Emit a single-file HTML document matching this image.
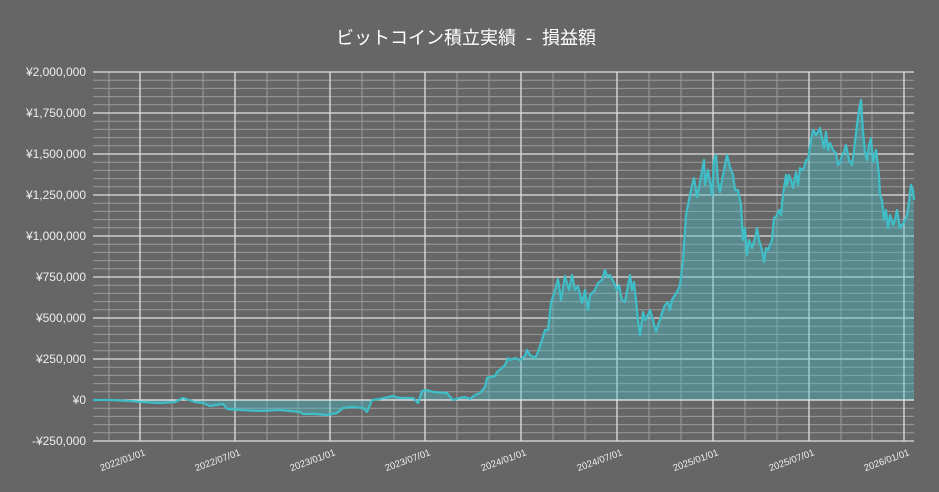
<!DOCTYPE html>
<html><head><meta charset="utf-8"><style>
html,body{margin:0;padding:0;background:#666;}
svg{display:block;font-family:"Liberation Sans","Noto Sans CJK JP",sans-serif;}
</style></head><body>
<svg width="939" height="492" viewBox="0 0 939 492">
<rect width="939" height="492" fill="#666"/>
<text x="466" y="44" fill="#fff" font-size="18" text-anchor="middle" xml:space="preserve" style="white-space:pre">ビットコイン積立実績  -  損益額</text>
<g stroke="#9a9a9a" stroke-width="1">
<line x1="93" x2="914" y1="80.2" y2="80.2"/><line x1="93" x2="914" y1="88.4" y2="88.4"/><line x1="93" x2="914" y1="96.6" y2="96.6"/><line x1="93" x2="914" y1="104.8" y2="104.8"/>
<line x1="93" x2="914" y1="121.2" y2="121.2"/><line x1="93" x2="914" y1="129.4" y2="129.4"/><line x1="93" x2="914" y1="137.6" y2="137.6"/><line x1="93" x2="914" y1="145.8" y2="145.8"/>
<line x1="93" x2="914" y1="162.2" y2="162.2"/><line x1="93" x2="914" y1="170.4" y2="170.4"/><line x1="93" x2="914" y1="178.6" y2="178.6"/><line x1="93" x2="914" y1="186.8" y2="186.8"/>
<line x1="93" x2="914" y1="203.2" y2="203.2"/><line x1="93" x2="914" y1="211.4" y2="211.4"/><line x1="93" x2="914" y1="219.6" y2="219.6"/><line x1="93" x2="914" y1="227.8" y2="227.8"/>
<line x1="93" x2="914" y1="244.2" y2="244.2"/><line x1="93" x2="914" y1="252.4" y2="252.4"/><line x1="93" x2="914" y1="260.6" y2="260.6"/><line x1="93" x2="914" y1="268.8" y2="268.8"/>
<line x1="93" x2="914" y1="285.2" y2="285.2"/><line x1="93" x2="914" y1="293.4" y2="293.4"/><line x1="93" x2="914" y1="301.6" y2="301.6"/><line x1="93" x2="914" y1="309.8" y2="309.8"/>
<line x1="93" x2="914" y1="326.2" y2="326.2"/><line x1="93" x2="914" y1="334.4" y2="334.4"/><line x1="93" x2="914" y1="342.6" y2="342.6"/><line x1="93" x2="914" y1="350.8" y2="350.8"/>
<line x1="93" x2="914" y1="367.2" y2="367.2"/><line x1="93" x2="914" y1="375.4" y2="375.4"/><line x1="93" x2="914" y1="383.6" y2="383.6"/><line x1="93" x2="914" y1="391.8" y2="391.8"/>
<line x1="93" x2="914" y1="408.2" y2="408.2"/><line x1="93" x2="914" y1="416.4" y2="416.4"/><line x1="93" x2="914" y1="424.6" y2="424.6"/><line x1="93" x2="914" y1="432.8" y2="432.8"/>
<line y1="72" y2="441" x1="109" x2="109"/><line y1="72" y2="441" x1="172" x2="172"/><line y1="72" y2="441" x1="203" x2="203"/>
<line y1="72" y2="441" x1="267" x2="267"/><line y1="72" y2="441" x1="298" x2="298"/>
<line y1="72" y2="441" x1="362" x2="362"/><line y1="72" y2="441" x1="394" x2="394"/>
<line y1="72" y2="441" x1="457" x2="457"/><line y1="72" y2="441" x1="489" x2="489"/>
<line y1="72" y2="441" x1="553" x2="553"/><line y1="72" y2="441" x1="585" x2="585"/>
<line y1="72" y2="441" x1="649" x2="649"/><line y1="72" y2="441" x1="681" x2="681"/>
<line y1="72" y2="441" x1="745" x2="745"/><line y1="72" y2="441" x1="777" x2="777"/>
<line y1="72" y2="441" x1="841" x2="841"/><line y1="72" y2="441" x1="872" x2="872"/>
</g>
<g stroke="#e0e0e0" stroke-width="1.3">
<line x1="93" x2="914" y1="72" y2="72"/><line x1="93" x2="914" y1="113" y2="113"/><line x1="93" x2="914" y1="154" y2="154"/><line x1="93" x2="914" y1="195" y2="195"/><line x1="93" x2="914" y1="236" y2="236"/><line x1="93" x2="914" y1="277" y2="277"/><line x1="93" x2="914" y1="318" y2="318"/><line x1="93" x2="914" y1="359" y2="359"/><line x1="93" x2="914" y1="441" y2="441"/>
<line y1="72" y2="441" x1="140" x2="140"/><line y1="72" y2="441" x1="235" x2="235"/><line y1="72" y2="441" x1="330" x2="330"/><line y1="72" y2="441" x1="425" x2="425"/><line y1="72" y2="441" x1="521" x2="521"/><line y1="72" y2="441" x1="617" x2="617"/><line y1="72" y2="441" x1="713" x2="713"/><line y1="72" y2="441" x1="809" x2="809"/><line y1="72" y2="441" x1="904" x2="904"/>
</g>
<g fill="#eee" font-size="12" text-anchor="end">
<text x="86" y="76">¥2,000,000</text><text x="86" y="117">¥1,750,000</text><text x="86" y="158">¥1,500,000</text><text x="86" y="199">¥1,250,000</text><text x="86" y="240">¥1,000,000</text><text x="86" y="281">¥750,000</text><text x="86" y="322">¥500,000</text><text x="86" y="363">¥250,000</text><text x="86" y="404">¥0</text><text x="86" y="445">-¥250,000</text>
</g>
<g fill="#eee" font-size="9.5" text-anchor="end">
<text transform="translate(146,455) rotate(-20)">2022/01/01</text>
<text transform="translate(241,455) rotate(-20)">2022/07/01</text>
<text transform="translate(336,455) rotate(-20)">2023/01/01</text>
<text transform="translate(431,455) rotate(-20)">2023/07/01</text>
<text transform="translate(527,455) rotate(-20)">2024/01/01</text>
<text transform="translate(623,455) rotate(-20)">2024/07/01</text>
<text transform="translate(719,455) rotate(-20)">2025/01/01</text>
<text transform="translate(815,455) rotate(-20)">2025/07/01</text>
<text transform="translate(910,455) rotate(-20)">2026/01/01</text>
</g>
<path fill="rgba(70,195,205,0.38)" d="M93,400 L93,400 110,400 130,401 150,402.5 160,403 175,402 183,398 195,402 203,403 210,406 223,404 227,409 240,410 260,411 280,410 300,412 303,414 315,414 327,415 337,413 343,408 353,407 363,408 367,412 372,400 380,399 393,396 400,398 413,398 418,403 422,391 427,390 433,392 447,393 453,400 460,398 465,397 470,399 475,395 480,393 485,387 487,378 495,376 497,372 502,368 505,365 508,358 510,360 515,358 520,360 525,356 527,350 530,355 535,358 538,352 541,343 545,330 548,330 551,303 555,290 558,279 561,300 565,276 569,290 572,275 575,290 578,286 582,303 585,290 588,310 590,295 595,290 598,283 602,280 605,270 607,276 610,275 615,285 617,290 619,285 622,300 625,302 628,285 630,275 632,290 634,282 636,300 638,320 640,335 643,312 645,320 648,315 650,310 653,320 656,332 658,325 660,320 663,310 665,305 668,302 670,310 672,300 675,295 678,290 680,285 683,260 686,215 688,205 692,185 694,178 697,197 700,182 704,160 705,185 708,170 710,182 712,195 714,160 716,155 718,182 720,192 722,180 725,165 727,155 730,167 733,175 735,190 738,190 741,205 743,240 745,228 747,255 749,240 752,248 755,238 757,228 759,240 762,250 764,262 766,248 768,250 770,245 772,240 774,218 776,217 779,210 781,215 783,195 786,175 787,185 789,175 791,180 793,188 796,172 798,185 800,168 802,170 804,168 806,160 808,160 811,140 813,130 816,135 818,132 820,128 824,148 826,132 828,150 830,143 833,150 836,153 838,165 840,162 842,155 844,152 846,145 849,160 852,165 854,150 857,125 859,110 861,100 863,132 865,152 867,160 869,145 871,138 873,162 876,150 879,175 880,195 882,200 884,220 886,210 888,228 890,215 893,225 895,220 897,210 900,228 902,225 905,220 907,215 909,202 911,185 913,190 914,200 L914,400 Z"/>
<line x1="93" x2="914" y1="400" y2="400" stroke="#f0f0f0" stroke-width="1.3"/>
<polyline fill="none" stroke="#3fbec8" stroke-width="2.2" stroke-linejoin="round" points="93,400 110,400 130,401 150,402.5 160,403 175,402 183,398 195,402 203,403 210,406 223,404 227,409 240,410 260,411 280,410 300,412 303,414 315,414 327,415 337,413 343,408 353,407 363,408 367,412 372,400 380,399 393,396 400,398 413,398 418,403 422,391 427,390 433,392 447,393 453,400 460,398 465,397 470,399 475,395 480,393 485,387 487,378 495,376 497,372 502,368 505,365 508,358 510,360 515,358 520,360 525,356 527,350 530,355 535,358 538,352 541,343 545,330 548,330 551,303 555,290 558,279 561,300 565,276 569,290 572,275 575,290 578,286 582,303 585,290 588,310 590,295 595,290 598,283 602,280 605,270 607,276 610,275 615,285 617,290 619,285 622,300 625,302 628,285 630,275 632,290 634,282 636,300 638,320 640,335 643,312 645,320 648,315 650,310 653,320 656,332 658,325 660,320 663,310 665,305 668,302 670,310 672,300 675,295 678,290 680,285 683,260 686,215 688,205 692,185 694,178 697,197 700,182 704,160 705,185 708,170 710,182 712,195 714,160 716,155 718,182 720,192 722,180 725,165 727,155 730,167 733,175 735,190 738,190 741,205 743,240 745,228 747,255 749,240 752,248 755,238 757,228 759,240 762,250 764,262 766,248 768,250 770,245 772,240 774,218 776,217 779,210 781,215 783,195 786,175 787,185 789,175 791,180 793,188 796,172 798,185 800,168 802,170 804,168 806,160 808,160 811,140 813,130 816,135 818,132 820,128 824,148 826,132 828,150 830,143 833,150 836,153 838,165 840,162 842,155 844,152 846,145 849,160 852,165 854,150 857,125 859,110 861,100 863,132 865,152 867,160 869,145 871,138 873,162 876,150 879,175 880,195 882,200 884,220 886,210 888,228 890,215 893,225 895,220 897,210 900,228 902,225 905,220 907,215 909,202 911,185 913,190 914,200"/>
</svg>
</body></html>
